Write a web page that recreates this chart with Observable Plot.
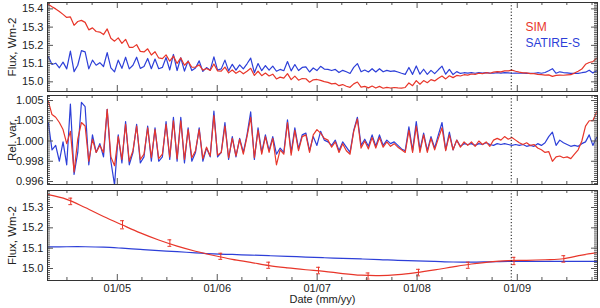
<!DOCTYPE html>
<html><head><meta charset="utf-8">
<script src="https://cdn.jsdelivr.net/npm/d3@7"></script>
<script src="https://cdn.jsdelivr.net/npm/@observablehq/plot@0.6"></script>
<style>
html,body{margin:0;padding:0;background:#fff;}
#chart{position:relative;width:600px;height:308px;overflow:hidden;}
#chart svg{position:absolute;left:0;}
</style></head><body><div id="chart"></div>
<script>
// ---------- data ----------
const startDate = "2004-04-24";   // first daily-series sample
const stepDays = 13.44;           // sampling interval of the series below

const topSIM = [
15.425,15.412,15.400,15.386,15.370,15.353,15.356,15.310,15.331,15.337,
15.326,15.285,15.296,15.276,15.273,15.259,15.290,15.239,15.223,15.241,
15.211,15.233,15.189,15.189,15.204,15.167,15.164,15.181,15.147,15.165,
15.131,15.127,15.148,15.113,15.141,15.101,15.131,15.091,15.112,15.080,
15.081,15.093,15.064,15.073,15.063,15.098,15.060,15.059,15.081,15.049,
15.065,15.047,15.060,15.044,15.058,15.074,15.035,15.058,15.034,15.048,
15.032,15.042,15.016,15.026,15.020,15.045,15.012,15.031,15.009,15.018,
15.017,14.998,15.011,15.013,15.008,15.001,14.997,14.989,14.992,14.979,
14.985,14.976,14.970,14.989,14.999,14.971,14.975,14.967,14.977,14.966,
14.975,14.965,14.970,14.966,14.969,14.967,14.966,14.969,14.994,14.979,
15.007,14.987,15.007,14.995,15.012,15.005,15.020,15.032,15.016,15.033,
15.023,15.035,15.032,15.039,15.037,15.043,15.041,15.047,15.045,15.050,
15.047,15.053,15.056,15.055,15.060,15.060,15.064,15.058,15.053,15.049,
15.049,15.045,15.045,15.041,15.039,15.037,15.038,15.030,15.035,15.037,
15.036,15.038,15.039,15.048,15.058,15.070,15.096,15.106,15.111,15.129];

const topSATIRE = [
15.139,15.095,15.102,15.077,15.108,15.071,15.168,15.056,15.091,15.171,
15.164,15.071,15.119,15.091,15.105,15.084,15.160,15.077,15.055,15.119,
15.074,15.135,15.071,15.091,15.135,15.074,15.084,15.128,15.072,15.125,
15.072,15.079,15.133,15.065,15.150,15.062,15.132,15.059,15.115,15.062,
15.076,15.115,15.057,15.078,15.064,15.137,15.064,15.071,15.119,15.060,
15.096,15.064,15.093,15.071,15.099,15.130,15.050,15.100,15.061,15.089,
15.064,15.086,15.058,15.068,15.061,15.111,15.060,15.095,15.062,15.079,
15.082,15.054,15.076,15.062,15.085,15.070,15.068,15.062,15.068,15.051,
15.063,15.055,15.046,15.079,15.100,15.055,15.065,15.054,15.072,15.054,
15.072,15.055,15.063,15.057,15.060,15.054,15.047,15.041,15.079,15.041,
15.087,15.042,15.069,15.041,15.063,15.045,15.066,15.086,15.042,15.068,
15.040,15.056,15.046,15.050,15.048,15.050,15.047,15.050,15.048,15.051,
15.048,15.047,15.050,15.048,15.050,15.049,15.047,15.048,15.047,15.048,
15.046,15.047,15.046,15.050,15.047,15.051,15.061,15.072,15.047,15.055,
15.051,15.049,15.046,15.047,15.046,15.050,15.053,15.064,15.049,15.060];

const relSIM = [
1.0048,1.0033,1.0030,1.0024,1.0016,1.0000,1.0014,0.9968,1.0005,1.0024,
1.0020,0.9980,1.0005,0.9990,0.9998,0.9990,1.0039,0.9985,0.9975,1.0008,
0.9982,1.0022,0.9980,0.9992,1.0020,0.9982,0.9988,1.0018,0.9984,1.0016,
0.9983,0.9988,1.0022,0.9985,1.0026,0.9983,1.0026,0.9982,1.0016,0.9984,
0.9992,1.0016,0.9983,0.9996,0.9986,1.0032,0.9987,0.9990,1.0020,0.9984,
1.0006,0.9986,1.0005,0.9988,1.0008,1.0030,0.9984,1.0015,0.9988,1.0008,
0.9990,1.0006,0.9976,0.9993,0.9988,1.0024,0.9987,1.0015,0.9992,1.0008,
1.0010,0.9990,1.0010,1.0016,1.0012,1.0006,1.0004,0.9996,1.0002,0.9990,
1.0000,0.9992,0.9988,1.0014,1.0028,0.9995,1.0003,0.9994,1.0007,0.9995,
1.0007,0.9996,1.0002,0.9997,1.0000,0.9996,0.9993,0.9990,1.0015,0.9990,
1.0020,0.9990,1.0010,0.9990,1.0006,0.9993,1.0006,1.0018,0.9992,1.0010,
0.9993,1.0004,0.9996,1.0002,0.9998,1.0002,0.9997,1.0003,0.9999,1.0002,
0.9997,1.0004,1.0006,1.0004,1.0008,1.0005,1.0007,1.0004,1.0001,0.9999,
1.0001,0.9998,0.9999,0.9995,0.9993,0.9990,0.9991,0.9980,0.9985,0.9986,
0.9984,0.9985,0.9983,0.9988,0.9993,1.0003,1.0020,1.0026,1.0026,1.0036];

const relSATIRE = [
1.0024,0.9993,0.9998,0.9980,1.0002,0.9976,1.0045,0.9965,0.9990,1.0047,
1.0042,0.9976,1.0010,0.9990,1.0000,0.9985,1.0039,0.9980,0.9953,1.0010,
0.9978,1.0025,0.9976,0.9990,1.0022,0.9978,0.9985,1.0020,0.9980,1.0018,
0.9980,0.9985,1.0025,0.9982,1.0030,0.9980,1.0030,0.9978,1.0018,0.9980,
0.9990,1.0018,0.9980,0.9995,0.9985,1.0037,0.9985,0.9990,1.0024,0.9982,
1.0008,0.9985,1.0006,0.9990,1.0010,1.0036,0.9982,1.0018,0.9990,1.0010,
0.9992,1.0008,0.9988,0.9995,0.9990,1.0027,0.9990,1.0018,0.9994,1.0010,
1.0012,0.9992,1.0008,0.9998,1.0014,1.0004,1.0002,0.9998,1.0004,0.9992,
1.0002,0.9996,0.9990,1.0015,1.0030,0.9998,1.0005,0.9997,1.0010,0.9997,
1.0010,0.9998,1.0004,1.0000,1.0002,0.9998,0.9994,0.9992,1.0019,0.9992,
1.0025,0.9993,1.0012,0.9992,1.0008,0.9995,1.0010,1.0024,0.9993,1.0013,
0.9993,1.0004,0.9997,1.0000,0.9999,1.0000,0.9998,1.0000,0.9999,1.0001,
0.9999,0.9998,1.0000,0.9999,1.0000,0.9999,0.9998,0.9999,0.9998,0.9999,
0.9997,0.9998,0.9997,1.0000,0.9998,1.0001,1.0008,1.0013,0.9998,1.0004,
1.0001,0.9999,0.9997,0.9998,0.9997,1.0000,1.0002,1.0010,0.9998,1.0007];

// smoothed series (bottom panel), one value every 5 samples
const smoothSIM = [15.363,15.340,15.300,15.256,15.215,15.175,15.140,15.110,15.085,15.064,
15.045,15.030,15.014,15.003,14.994,14.986,14.975,14.967,14.965,14.970,
14.980,14.993,15.008,15.022,15.033,15.039,15.040,15.043,15.048,15.066,15.080];
const smoothSATIRE = [15.106,15.107,15.107,15.105,15.100,15.094,15.088,15.083,15.077,15.072,
15.069,15.066,15.063,15.060,15.056,15.053,15.050,15.047,15.044,15.040,
15.038,15.035,15.032,15.031,15.033,15.035,15.035,15.035,15.035,15.035,15.035];

// error bars on the SIM smooth curve
const errDates = ["2004-07-15","2005-01-20","2005-07-12","2006-01-14","2006-07-08","2007-01-06",
"2007-07-06","2008-01-06","2008-07-06","2008-12-20","2009-06-20"];
const errValues = [15.330,15.215,15.125,15.060,15.016,14.990,14.963,14.980,15.016,15.037,15.047];
const errSizes = [0.016,0.020,0.016,0.015,0.015,0.016,0.015,0.016,0.015,0.018,0.016];

const xDomain = ["2004-04-21","2009-10-21"];
const majorXTicks = ["2005-01-01","2006-01-01","2007-01-01","2008-01-01","2009-01-01"];
const minorXTicks = ["2004-07-01","2004-10-01","2005-04-01","2005-07-01","2005-10-01",
"2006-04-01","2006-07-01","2006-10-01","2007-04-01","2007-07-01","2007-10-01",
"2008-04-01","2008-07-01","2008-10-01","2009-04-01","2009-07-01","2009-10-01"];
const separatorDate = "2008-12-10";

const fluxTicksTop = [15.0,15.1,15.2,15.3,15.4];
const fluxTicksBottom = [15.0,15.1,15.2,15.3];
const relTicks = [0.9957,0.9980,1.0003,1.0026,1.0049];
const relTickLabels = ["0.996","0.998","1.000","1.003","1.005"];

const legendLabels = ["SIM","SATIRE-S"];
const yTitles = ["Flux, Wm-2","Rel. var,","Flux, Wm-2"];
const xTitle = "Date (mm/yy)";

// ---------- build ----------
const RED = "#e8362a", BLUE = "#2d3fd8";
const W = 600, ML = 47, MR = 3, PW = W - ML - MR;
const FONT = "Liberation Sans, Arial, sans-serif";
const day = 864e5;
const t0 = Date.parse(startDate);
const dates = topSIM.map((_, i) => new Date(t0 + i * stepDays * day));
const sdates = smoothSIM.map((_, i) => new Date(t0 + i * 5 * stepDays * day));
const P = s => new Date(s);

const topData = dates.map((d, i) => ({date: d, sim: topSIM[i], sat: topSATIRE[i]}));
const relData = dates.map((d, i) => ({date: d, sim: relSIM[i], sat: relSATIRE[i]}));
const smData = sdates.map((d, i) => ({date: d, sim: smoothSIM[i], sat: smoothSATIRE[i]}));
const errData = errDates.map((d, i) => ({date: P(d), v: errValues[i], e: errSizes[i]}));

function frameMarks(ph, yDomain, yMajor, yMinor, labels, title) {
  const inD = v => v >= yDomain[0] && v <= yDomain[1];
  const minor = yMinor.filter(inD);
  const tk = {stroke: "#555", strokeWidth: 1};
  return [
    Plot.tickX(majorXTicks, {x: P, insetBottom: ph - 6, ...tk}),
    Plot.tickX(majorXTicks, {x: P, insetTop: ph - 6, ...tk}),
    Plot.tickX(minorXTicks, {x: P, insetBottom: ph - 3, ...tk}),
    Plot.tickX(minorXTicks, {x: P, insetTop: ph - 3, ...tk}),
    Plot.tickY(yMajor, {y: d => d, insetRight: PW - 6, ...tk}),
    Plot.tickY(yMajor, {y: d => d, insetLeft: PW - 6, ...tk}),
    Plot.tickY(minor, {y: d => d, insetRight: PW - 3, ...tk}),
    Plot.tickY(minor, {y: d => d, insetLeft: PW - 3, ...tk}),
    Plot.text(yMajor, {y: d => d, text: (d, i) => labels[i], frameAnchor: "left", dx: -4,
      textAnchor: "end", fontSize: 11, fill: "#222"}),
    Plot.text([title], {frameAnchor: "left", dx: -35, rotate: -90, textAnchor: "middle",
      lineAnchor: "middle", fontSize: 11.5, fill: "#222"}),
    Plot.ruleX([separatorDate], {x: P, stroke: "#111", strokeWidth: 1, strokeDasharray: "1.2,2"}),
    Plot.frame({stroke: "#333", strokeWidth: 1})
  ];
}

function panel({top, height, mt, mb, yDomain, marks}) {
  const svg = Plot.plot({
    width: W, height, marginLeft: ML, marginRight: MR, marginTop: mt, marginBottom: mb,
    style: {fontFamily: FONT, background: "transparent", overflow: "visible"},
    x: {type: "utc", domain: xDomain.map(P), axis: null},
    y: {domain: yDomain, axis: null},
    marks
  });
  svg.style.top = top + "px";
  document.getElementById("chart").appendChild(svg);
}

// top panel
{
  const mt = 2, mb = 2, h = 93, yd = [14.947, 15.435];
  panel({top: 0, height: h, mt, mb, yDomain: yd, marks: [
    Plot.line(topData, {x: "date", y: "sat", stroke: BLUE, strokeWidth: 1.2, clip: true}),
    Plot.line(topData, {x: "date", y: "sim", stroke: RED, strokeWidth: 1.2, clip: true}),
    Plot.text([legendLabels[0]], {frameAnchor: "top-left", dx: 478, dy: 20, textAnchor: "start", fill: RED, fontSize: 12}),
    Plot.text([legendLabels[1]], {frameAnchor: "top-left", dx: 478, dy: 35.5, textAnchor: "start", fill: BLUE, fontSize: 12}),
    ...frameMarks(h - mt - mb, yd, fluxTicksTop, d3.range(1494, 1544).map(v => v / 100),
      fluxTicksTop.map(d3.format(".1f")), yTitles[0])
  ]});
}
// middle panel
{
  const mt = 2, mb = 2, h = 93, yd = [0.99536, 1.00547];
  panel({top: 93, height: h, mt, mb, yDomain: yd, marks: [
    Plot.line(relData, {x: "date", y: "sat", stroke: BLUE, strokeWidth: 1.2, clip: true}),
    Plot.line(relData, {x: "date", y: "sim", stroke: RED, strokeWidth: 1.2, clip: true}),
    ...frameMarks(h - mt - mb, yd, relTicks, d3.range(-3, 45).map(k => 0.9957 + k * 0.00023),
      relTickLabels, yTitles[1])
  ]});
}
// bottom panel
{
  const mt = 4, mb = 28, h = 122, yd = [14.941, 15.3836];
  panel({top: 186, height: h, mt, mb, yDomain: yd, marks: [
    Plot.line(smData, {x: "date", y: "sat", stroke: BLUE, strokeWidth: 1.2, curve: "catmull-rom", clip: true}),
    Plot.line(smData, {x: "date", y: "sim", stroke: RED, strokeWidth: 1.2, curve: "catmull-rom", clip: true}),
    Plot.ruleX(errData, {x: "date", y1: d => d.v - d.e, y2: d => d.v + d.e, stroke: RED, strokeWidth: 1}),
    Plot.ruleY(errData, {y: d => d.v + d.e, x1: d => new Date(+d.date - 7 * day), x2: d => new Date(+d.date + 7 * day), stroke: RED, strokeWidth: 1}),
    Plot.ruleY(errData, {y: d => d.v - d.e, x1: d => new Date(+d.date - 7 * day), x2: d => new Date(+d.date + 7 * day), stroke: RED, strokeWidth: 1}),
    ...frameMarks(h - mt - mb, yd, fluxTicksBottom, d3.range(1494, 1539).map(v => v / 100),
      fluxTicksBottom.map(d3.format(".1f")), yTitles[2]),
    Plot.text(majorXTicks, {x: P, text: d => d3.utcFormat("%m/%y")(P(d)), frameAnchor: "bottom", dy: 11, fontSize: 11, fill: "#222"}),
    Plot.text([xTitle], {frameAnchor: "bottom", dy: 22, fontSize: 11, fill: "#222"})
  ]});
}
</script></body></html>
